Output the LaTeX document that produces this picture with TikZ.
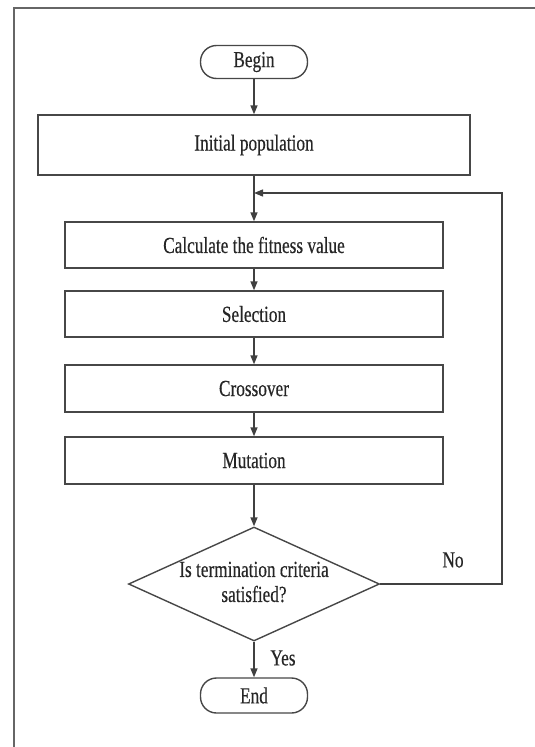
\documentclass[tikz,border=0pt]{standalone}
\usepackage{fontspec}
\setmainfont[FakeStretch=0.75,FakeBold=0.4]{Liberation Serif}
\usetikzlibrary{shapes.geometric,arrows.meta}
\begin{document}
\begin{tikzpicture}[x=1pt,y=-1pt,
  every node/.style={font=\fontsize{23}{25}\selectfont, text=black!85},
  procbox/.style={draw=black!72, line width=1.4pt, rectangle, inner sep=0pt},
  termbox/.style={draw=black!72, line width=1.4pt, rectangle, rounded corners=16pt, inner sep=0pt, minimum width=107pt},
  decbox/.style={draw=black!72, line width=1.4pt, diamond, inner sep=0pt},
  conn/.style={draw=black!75, line width=1.4pt, -{Triangle[length=9pt,width=7pt]}},
  framestyle/.style={draw=black!60, line width=1.4pt}]
\useasboundingbox (0,0) rectangle (535,747);
\draw[framestyle] (536,8) -- (14,8) -- (14,748);
\node[termbox, minimum height=33pt] (begin) at (254,62) {Begin};
\node[procbox, minimum width=432pt, minimum height=60pt] (init) at (254,145) {Initial population};
\node[procbox, minimum width=378pt, minimum height=46pt] (calc) at (254,245) {Calculate the fitness value};
\node[procbox, minimum width=378pt, minimum height=46pt] (sel) at (254,314) {Selection};
\node[procbox, minimum width=378pt, minimum height=47pt] (cross) at (254,388.5) {Crossover};
\node[procbox, minimum width=378pt, minimum height=47pt] (mut) at (254,460.5) {Mutation};
\node[decbox, minimum width=251pt, minimum height=114pt] (dec) at (254,584) {};
\node[align=center, inner sep=0pt] (dectext) at (254,582) {Is termination criteria\\satisfied?};
\node[termbox, minimum height=35pt] (end) at (254,695.5) {End};
\node (yes) at (283,658) {Yes};
\node (no) at (453,560) {No};
\coordinate (cornerB) at (502,584);
\coordinate (cornerT) at (502,193);
\coordinate (join) at (254,193);
\draw[conn] (begin) -- (init);
\draw[conn] (init) -- (calc);
\draw[conn] (calc) -- (sel);
\draw[conn] (sel) -- (cross);
\draw[conn] (cross) -- (mut);
\draw[conn] (mut) -- (dec.north);
\draw[conn] (dec.south) -- (end);
\draw[conn] (dec.east) -- (cornerB) -- (cornerT) -- (join);
\end{tikzpicture}
\end{document}
